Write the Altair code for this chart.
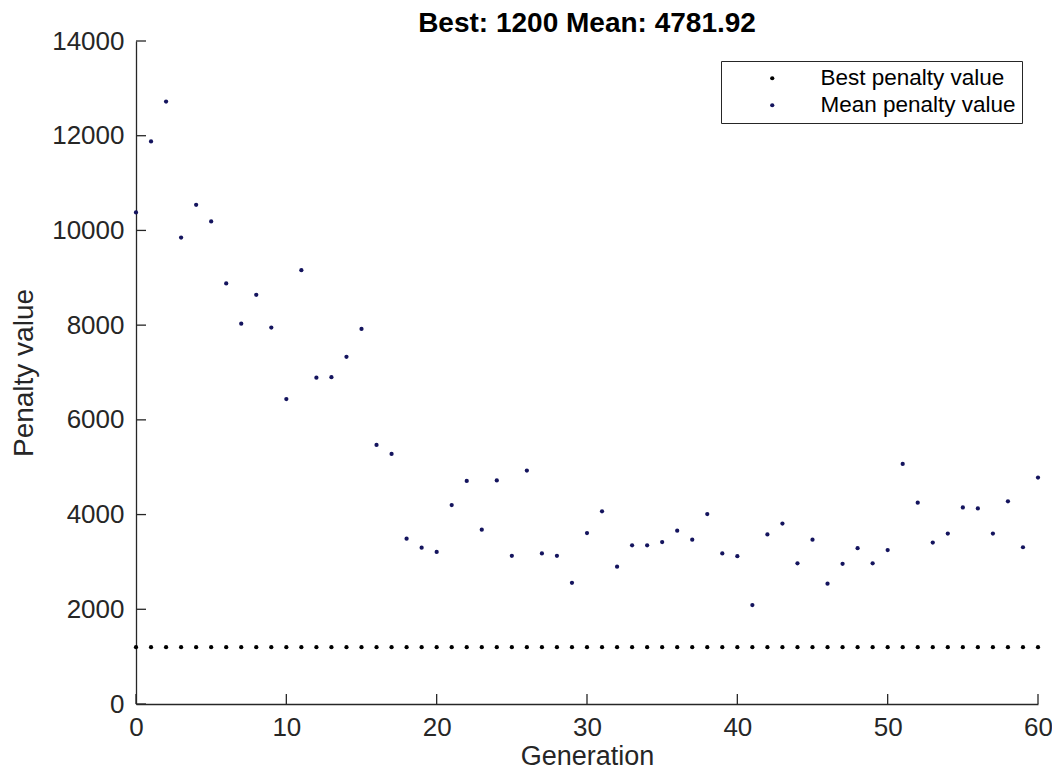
import altair as alt
import pandas as pd

generations = list(range(61))
mean_values = [10380, 11880, 12720, 9850, 10540, 10190, 8880, 8030, 8640, 7950,
               6440, 9160, 6890, 6900, 7330, 7920, 5470, 5280, 3490, 3300,
               3210, 4200, 4710, 3680, 4720, 3130, 4930, 3180, 3130, 2560,
               3610, 4070, 2900, 3350, 3350, 3420, 3660, 3470, 4010, 3180,
               3120, 2090, 3580, 3810, 2970, 3470, 2540, 2960, 3290, 2970,
               3250, 5070, 4250, 3410, 3600, 4150, 4130, 3600, 4280, 3310, 4781.92]
best_values = [1200] * 61
series_names = ["Best penalty value", "Mean penalty value"]
series_colors = ["#000000", "#14145e"]
x_ticks = [0, 10, 20, 30, 40, 50, 60]
y_ticks = [0, 2000, 4000, 6000, 8000, 10000, 12000, 14000]
title_text = "Best: 1200 Mean: 4781.92"

FONT = "Liberation Sans"
AX = "#262626"
W, H = 902, 663

df = pd.concat([
    pd.DataFrame({"generation": generations, "value": best_values, "series": series_names[0]}),
    pd.DataFrame({"generation": generations, "value": mean_values, "series": series_names[1]}),
])

xscale = alt.Scale(domain=[0, 60], nice=False, zero=False)
yscale = alt.Scale(domain=[0, 14000], nice=False)

points = alt.Chart(df).mark_circle(size=18, opacity=1).encode(
    x=alt.X("generation:Q", scale=xscale,
            axis=alt.Axis(values=x_ticks, format="d", title="Generation", grid=False, ticks=False,
                          tickSize=0, labelPadding=10, titlePadding=3, labelFontSize=26,
                          titleFontSize=27, labelFont=FONT, titleFont=FONT, labelColor=AX,
                          titleColor=AX, titleFontWeight="normal", domainColor=AX,
                          domainWidth=1.3, labelFlush=False)),
    y=alt.Y("value:Q", scale=yscale,
            axis=alt.Axis(values=y_ticks, format="d", title="Penalty value", grid=False, ticks=False,
                          tickSize=0, labelPadding=12, titlePadding=13, labelFontSize=26,
                          titleFontSize=28, labelFont=FONT, titleFont=FONT, labelColor=AX,
                          titleColor=AX, titleFontWeight="normal", domainColor=AX,
                          domainWidth=1.3, labelFlush=False)),
    color=alt.Color("series:N",
                    scale=alt.Scale(domain=series_names, range=series_colors),
                    legend=alt.Legend(title=None, orient="none", legendX=585, legendY=20,
                                      strokeColor=AX, fillColor="white", padding=6,
                                      symbolType="circle", symbolSize=18, symbolOffset=34,
                                      labelOffset=37, labelFontSize=22.5, labelFont=FONT,
                                      labelColor="#000000", rowPadding=4, labelLimit=400,
                                      symbolStrokeWidth=0)),
)

xtick_marks = alt.Chart(pd.DataFrame({"generation": x_ticks})).mark_rule(color=AX, strokeWidth=1.3).encode(
    x=alt.X("generation:Q", scale=xscale),
    y=alt.value(H), y2=alt.value(H - 10),
)
ytick_marks = alt.Chart(pd.DataFrame({"value": y_ticks})).mark_rule(color=AX, strokeWidth=1.3).encode(
    y=alt.Y("value:Q", scale=yscale),
    x=alt.value(0), x2=alt.value(10),
)

chart = alt.layer(points, xtick_marks, ytick_marks).properties(
    width=W, height=H,
    title=alt.TitleParams(title_text, font=FONT, fontSize=28, fontWeight="bold", color="#000000",
                          anchor="middle", frame="group", offset=3, dy=13),
    autosize=alt.AutoSizeParams(type="none"),
    padding={"left": 128, "top": 33, "right": 14, "bottom": 68},
    background="white",
).configure_view(stroke=None)

chart.save("out.html", embed_options={"renderer": "svg", "actions": False})
